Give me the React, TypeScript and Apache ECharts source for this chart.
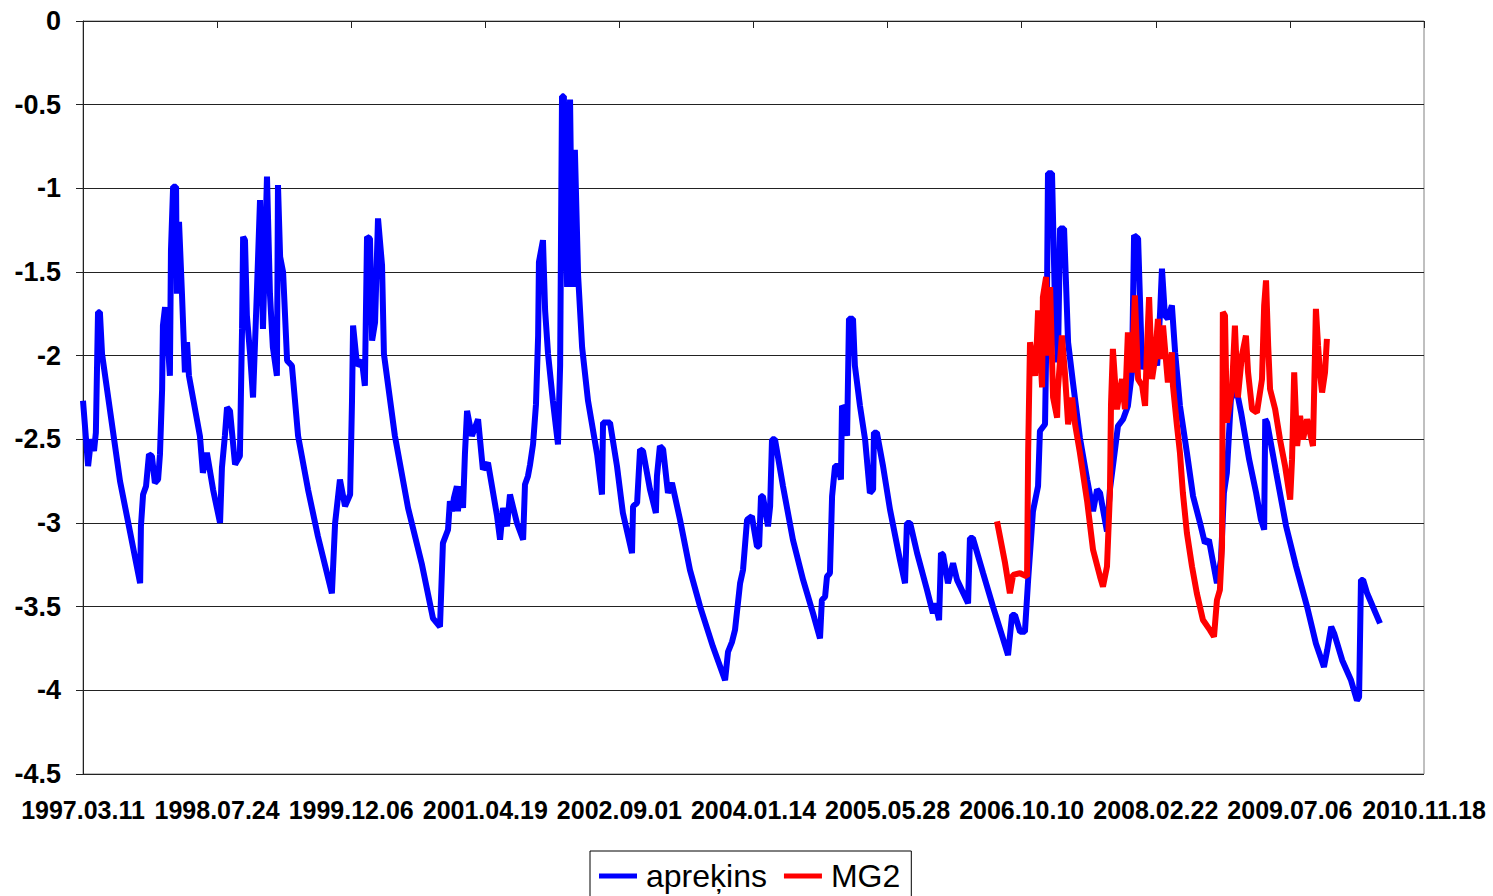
import React, { useEffect, useRef } from 'react';
import * as echarts from 'echarts';

// x: days since 1997.03.11, y: value
const xTickLabels = ['1997.03.11', '1998.07.24', '1999.12.06', '2001.04.19', '2002.09.01', '2004.01.14', '2005.05.28', '2006.10.10', '2008.02.22', '2009.07.06', '2010.11.18'];
const yTicks = [0, -0.5, -1, -1.5, -2, -2.5, -3, -3.5, -4, -4.5];
const seriesNames = ['apreķins', 'MG2'];

const apreķinsData: [number, number][] = [
  [0, -2.27], [19, -2.66], [30, -2.5], [41, -2.57], [48, -2.46], [56, -1.74], [63, -1.74], [71, -1.99],
  [138, -2.75], [175, -3.05], [213, -3.36], [216, -3.02], [224, -2.83], [235, -2.78], [246, -2.59], [257, -2.6],
  [268, -2.76], [280, -2.74], [287, -2.59], [295, -2.2], [298, -1.82], [306, -1.71], [313, -1.84], [324, -2.12],
  [328, -1.37], [336, -0.99], [347, -0.99], [350, -1.63], [358, -1.2], [369, -1.63], [380, -2.1], [388, -1.92],
  [395, -2.12], [436, -2.48], [447, -2.7], [462, -2.58], [485, -2.8], [511, -3.0], [518, -2.67], [529, -2.48],
  [537, -2.31], [548, -2.33], [567, -2.65], [585, -2.6], [593, -1.84], [597, -1.29], [604, -1.31], [611, -1.76],
  [623, -1.99], [634, -2.25], [649, -1.59], [660, -1.07], [671, -1.84], [686, -0.93], [697, -1.63], [708, -1.95],
  [723, -2.12], [727, -0.98], [735, -1.41], [746, -1.5], [761, -2.03], [779, -2.06], [802, -2.48], [839, -2.8],
  [876, -3.08], [928, -3.42], [940, -3.0], [958, -2.74], [977, -2.9], [996, -2.83], [1003, -2.27], [1007, -1.82],
  [1022, -2.06], [1040, -2.03], [1051, -2.18], [1059, -1.29], [1070, -1.3], [1078, -1.91], [1089, -1.8], [1100, -1.18],
  [1115, -1.46], [1122, -1.99], [1163, -2.48], [1212, -2.91], [1264, -3.25], [1305, -3.57], [1331, -3.62], [1342, -3.12],
  [1361, -3.04], [1368, -2.87], [1376, -2.93], [1383, -2.85], [1394, -2.78], [1398, -2.93], [1406, -2.78], [1417, -2.91],
  [1424, -2.59], [1432, -2.33], [1450, -2.48], [1473, -2.38], [1491, -2.68], [1510, -2.64], [1544, -2.96], [1555, -3.1],
  [1566, -2.91], [1581, -3.02], [1592, -2.83], [1618, -3.0], [1641, -3.1], [1648, -2.77], [1659, -2.72], [1667, -2.65],
  [1678, -2.53], [1689, -2.29], [1697, -1.88], [1700, -1.44], [1715, -1.31], [1723, -1.73], [1734, -1.99], [1752, -2.27],
  [1771, -2.53], [1779, -2.06], [1786, -0.45], [1793, -0.45], [1805, -1.59], [1816, -0.47], [1820, -0.99], [1827, -1.59],
  [1834, -0.77], [1846, -1.52], [1861, -1.95], [1883, -2.27], [1917, -2.59], [1935, -2.83], [1939, -2.4], [1965, -2.4],
  [1991, -2.66], [2013, -2.94], [2047, -3.18], [2051, -2.9], [2066, -2.88], [2077, -2.56], [2088, -2.57], [2114, -2.8],
  [2136, -2.94], [2140, -2.72], [2151, -2.54], [2163, -2.56], [2181, -2.82], [2196, -2.76], [2226, -2.98], [2263, -3.28],
  [2301, -3.5], [2349, -3.74], [2394, -3.94], [2405, -3.77], [2420, -3.71], [2431, -3.64], [2450, -3.36], [2461, -3.28],
  [2476, -2.98], [2494, -2.96], [2513, -3.14], [2521, -3.14], [2528, -2.84], [2535, -2.84], [2554, -3.02], [2562, -2.9],
  [2569, -2.5], [2580, -2.5], [2610, -2.78], [2647, -3.1], [2685, -3.34], [2722, -3.54], [2748, -3.69], [2755, -3.46],
  [2767, -3.44], [2774, -3.32], [2785, -3.3], [2793, -2.84], [2804, -2.66], [2815, -2.66], [2826, -2.74], [2830, -2.3],
  [2841, -2.32], [2849, -2.48], [2856, -1.78], [2871, -1.78], [2878, -2.06], [2897, -2.3], [2916, -2.5], [2934, -2.82],
  [2946, -2.8], [2949, -2.46], [2960, -2.46], [2983, -2.66], [3009, -2.92], [3046, -3.22], [3065, -3.36], [3072, -3.0],
  [3084, -3.0], [3110, -3.18], [3147, -3.4], [3169, -3.54], [3177, -3.48], [3192, -3.58], [3199, -3.18], [3207, -3.19],
  [3225, -3.36], [3244, -3.24], [3259, -3.34], [3300, -3.48], [3307, -3.09], [3318, -3.09], [3356, -3.3], [3393, -3.5],
  [3430, -3.69], [3449, -3.79], [3464, -3.55], [3475, -3.55], [3494, -3.65], [3512, -3.65], [3524, -3.34], [3542, -2.93],
  [3561, -2.78], [3568, -2.45], [3587, -2.41], [3594, -1.69], [3598, -0.91], [3613, -0.91], [3624, -1.69], [3635, -2.04],
  [3643, -1.24], [3658, -1.24], [3673, -1.92], [3691, -2.16], [3717, -2.49], [3744, -2.74], [3766, -2.93], [3781, -2.8],
  [3792, -2.82], [3818, -3.05], [3829, -2.8], [3848, -2.56], [3859, -2.42], [3878, -2.38], [3896, -2.3], [3911, -2.1],
  [3919, -1.28], [3934, -1.3], [3949, -2.08], [3960, -2.02], [3990, -1.94], [4005, -2.06], [4016, -1.74], [4023, -1.48],
  [4034, -1.76], [4045, -1.78], [4060, -1.7], [4072, -1.98], [4090, -2.3], [4116, -2.58], [4139, -2.84], [4165, -3.0],
  [4183, -3.12], [4198, -3.1], [4228, -3.36], [4243, -3.22], [4254, -2.82], [4265, -2.7], [4280, -2.26], [4292, -2.22],
  [4303, -2.22], [4318, -2.34], [4348, -2.62], [4374, -2.82], [4392, -2.98], [4404, -3.04], [4408, -2.38], [4415, -2.4],
  [4449, -2.7], [4486, -3.02], [4523, -3.26], [4564, -3.5], [4597, -3.72], [4627, -3.86], [4639, -3.76], [4654, -3.62],
  [4665, -3.66], [4695, -3.82], [4728, -3.94], [4750, -4.06], [4758, -4.04], [4765, -3.34], [4773, -3.34], [4788, -3.42],
  [4836, -3.6],
];

const mg2Data: [number, number][] = [
  [3408, -2.99], [3438, -3.24], [3456, -3.42], [3468, -3.31], [3494, -3.3], [3520, -3.32], [3524, -2.58], [3531, -1.92],
  [3550, -2.12], [3557, -1.9], [3561, -1.73], [3576, -2.19], [3579, -1.65], [3591, -1.53], [3598, -2.0], [3606, -1.59],
  [3617, -2.25], [3632, -2.37], [3635, -2.2], [3650, -1.88], [3661, -2.1], [3673, -2.41], [3688, -2.25], [3699, -2.41],
  [3717, -2.58], [3744, -2.87], [3766, -3.16], [3792, -3.32], [3803, -3.38], [3818, -3.26], [3829, -2.82], [3833, -2.29],
  [3840, -1.96], [3855, -2.32], [3874, -2.14], [3885, -2.32], [3896, -1.86], [3911, -2.1], [3922, -1.64], [3934, -2.14],
  [3949, -2.18], [3960, -2.3], [3967, -1.96], [3975, -1.65], [3986, -2.14], [3997, -2.02], [4008, -1.78], [4016, -2.02],
  [4027, -1.82], [4045, -2.16], [4060, -1.98], [4064, -2.18], [4079, -2.42], [4090, -2.58], [4101, -2.82], [4116, -3.06],
  [4135, -3.26], [4153, -3.42], [4176, -3.58], [4202, -3.64], [4217, -3.68], [4228, -3.46], [4239, -3.4], [4247, -3.14],
  [4250, -1.74], [4258, -1.76], [4265, -2.4], [4284, -2.2], [4295, -1.82], [4306, -2.25], [4321, -2.0], [4336, -1.88],
  [4344, -2.1], [4359, -2.32], [4377, -2.34], [4396, -2.14], [4404, -1.7], [4411, -1.55], [4419, -1.94], [4426, -2.2],
  [4445, -2.32], [4463, -2.5], [4482, -2.66], [4501, -2.86], [4508, -2.62], [4516, -2.1], [4527, -2.54], [4538, -2.36],
  [4549, -2.5], [4564, -2.38], [4586, -2.54], [4597, -1.72], [4605, -1.94], [4612, -2.1], [4620, -2.22], [4631, -2.1],
  [4638, -1.9],
];

const FONT = "'Liberation Sans', Arial, sans-serif";

export default function App() {
  const ref = useRef<HTMLDivElement>(null);
  useEffect(() => {
    document.body.style.margin = '0';
    const chart = echarts.init(ref.current!, null, { renderer: 'svg' });
    chart.setOption({
      animation: false,
      backgroundColor: '#ffffff',
      grid: { left: 83, right: 69, top: 21, bottom: 122, show: true, borderColor: '#808080', borderWidth: 1 },
      legend: {
        data: seriesNames,
        top: 851,
        left: 590,
        icon: 'rect',
        itemWidth: 38,
        itemHeight: 5,
        itemGap: 17,
        borderColor: '#000',
        borderWidth: 1,
        padding: [9, 11, 20, 9],
        textStyle: { fontSize: 32, fontFamily: FONT, color: '#000', padding: [0, 0, 0, 4] },
      },
      xAxis: {
        type: 'value',
        min: 0,
        max: 5000,
        interval: 500,
        axisLine: { show: true, lineStyle: { color: '#222', width: 1 } },
        axisTick: { show: true, length: 7, lineStyle: { color: '#222' } },
        splitLine: { show: false },
        axisLabel: {
          margin: 23,
          fontSize: 25,
          fontWeight: 'bold',
          fontFamily: FONT,
          color: '#000',
          formatter: (v: number) => xTickLabels[Math.round(v / 500)] ?? '',
        },
      },
      yAxis: {
        type: 'value',
        min: yTicks[yTicks.length - 1],
        max: yTicks[0],
        interval: 0.5,
        axisLine: { show: true, lineStyle: { color: '#222', width: 1 } },
        axisTick: { show: true, length: 7, lineStyle: { color: '#222' } },
        splitLine: { show: true, lineStyle: { color: '#222', width: 1 } },
        axisLabel: { margin: 22, fontSize: 27, fontWeight: 'bold', fontFamily: FONT, color: '#000' },
      },
      series: [
        {
          name: seriesNames[0], type: 'line', data: apreķinsData, showSymbol: false, symbol: 'none',
          lineStyle: { color: '#0000ff', width: 6 }, itemStyle: { color: '#0000ff' },
        },
        {
          name: seriesNames[1], type: 'line', data: mg2Data, showSymbol: false, symbol: 'none',
          lineStyle: { color: '#ff0000', width: 6 }, itemStyle: { color: '#ff0000' },
        },
      ],
    });
    return () => chart.dispose();
  }, []);
  return <div ref={ref} style={{ width: 1493, height: 896 }} />;
}
